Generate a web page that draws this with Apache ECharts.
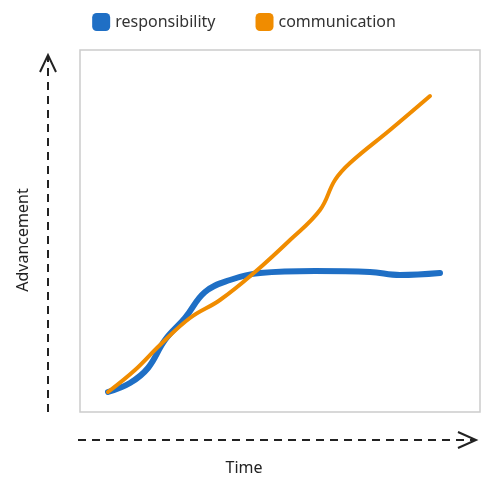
<!DOCTYPE html>
<html><head><meta charset="utf-8">
<script src="https://cdn.jsdelivr.net/npm/echarts@6/dist/echarts.min.js"></script>
<style>html,body{margin:0;padding:0;background:#fff}#c{width:488px;height:494px}</style>
</head><body><div id="c"></div>
<script>
const seriesNames = ['responsibility', 'communication'];
const responsibility = [[28,20],[50,29],[68,44],[85,72],[105,94],[125,120],[150,132],[180,139],[235,141],[290,140],[320,137],[360,139]];
const communication = [[28,20],[55,42],[80,67],[110,94],[140,112],[175,140],[210,172],[240,202],[255,232],[270,249],[310,282],[350,316]];
const chart = echarts.init(document.getElementById('c'));
const font = '"Comic Sans MS", "Noto Sans", sans-serif';
chart.setOption({
  animation:false,
  color:['#1f6fc5','#f08c00'],
  legend:{top:8,left:'center',itemWidth:18,itemHeight:18,itemGap:40,icon:'roundRect',
    textStyle:{fontFamily:font,fontSize:16,color:'#333'},data:seriesNames},
  grid:{left:80,top:50,width:400,height:362,show:true,borderColor:'#ccc',borderWidth:1.5},
  xAxis:{type:'value',min:0,max:400,show:false},
  yAxis:{type:'value',min:0,max:362,show:false},
  series:[
    {name:seriesNames[0],type:'line',smooth:0.4,symbol:'none',data:responsibility,lineStyle:{width:6,cap:'round'}},
    {name:seriesNames[1],type:'line',smooth:0.4,symbol:'none',data:communication,lineStyle:{width:4,cap:'round'}}
  ],
  graphic:[
    {type:'line',shape:{x1:48,y1:412,x2:48,y2:55},style:{stroke:'#222',lineWidth:2,lineDash:[8,6]}},
    {type:'polyline',shape:{points:[[40,72],[48,55],[56,72]]},style:{stroke:'#222',lineWidth:2,fill:null}},
    {type:'line',shape:{x1:78,y1:440,x2:475,y2:440},style:{stroke:'#222',lineWidth:2,lineDash:[8,6]}},
    {type:'polyline',shape:{points:[[458,432],[476,440],[458,448]]},style:{stroke:'#222',lineWidth:2,fill:null}},
    {type:'text',left:'center',top:460,style:{text:'Time',font:'16px '+font,fill:'#222'}},
    {type:'text',x:15,y:240,rotation:Math.PI/2,style:{text:'Advancement',font:'16px '+font,fill:'#222',align:'center',verticalAlign:'top'}}
  ]
});
</script></body></html>
